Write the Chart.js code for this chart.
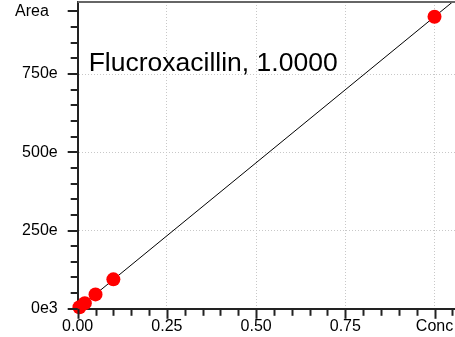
<!DOCTYPE html>
<html>
<head>
<meta charset="utf-8">
<script src="https://cdn.jsdelivr.net/npm/chart.js@4/dist/chart.umd.min.js"></script>
<style>
    html, body { margin: 0; padding: 0; background: #fff; }
    #wrap { width: 455px; height: 337px; position: relative; }
</style>
</head>
<body>
<div id="wrap"><canvas id="calChart"></canvas></div>
<script>
// calibration points
const conc = [0.005, 0.02, 0.05, 0.1, 1.0];
const area = [5, 18, 46, 94, 933];

// fitted line end points
const fitX = [0, 1.06];
const fitY = [0, 989];

// axes
const xMin = 0, xMax = 1.0574, xMinorStep = 0.05;
const yMin = 0, yMax = 980, yMinorStep = 50;
const xMajorTicks = [0, 0.25, 0.5, 0.75, 1.0];
const xTickLabels = ['0.00', '0.25', '0.50', '0.75', 'Conc'];
const yMajorTicks = [0, 250, 500, 750, 950];
const yTickLabels = ['0e3', '250e', '500e', '750e', 'Area'];
const xGridTicks = [0.25, 0.5, 0.75, 1.0];
const yGridTicks = [250, 500, 750];

const titleText = 'Flucroxacillin, 1.0000';

function near(a, b) { return Math.abs(a - b) < 1e-6; }
function majorIndex(list, v) { return list.findIndex(m => near(m, v)); }

function tickValues(min, max, step, bound) {
    const out = [];
    for (let i = 0; min + i * step <= max + 1e-9; i++) out.push(+(min + i * step).toFixed(6));
    if (!near(out[out.length - 1], bound)) out.push(bound);
    return out;
}

const xTicks = tickValues(xMin, 1.05, xMinorStep, xMax);
const yTicks = tickValues(yMin, 950, yMinorStep, yMax);

Chart.defaults.font.family = "'Liberation Sans', Arial, sans-serif";
Chart.defaults.color = '#000';

// tick marks (long at labelled ticks), top frame line, title inside the plot
const decorations = {
    id: 'decorations',
    afterDraw(chart) {
        const ctx = chart.ctx;
        const a = chart.chartArea;
        const xs = chart.scales.x, ys = chart.scales.y;
        ctx.save();
        ctx.strokeStyle = '#222';
        ctx.lineWidth = 2;
        xs.ticks.forEach(t => {
            if (near(t.value, xMax)) return;
            const px = Math.round(xs.getPixelForValue(t.value)) + 0.5;
            const len = majorIndex(xMajorTicks, t.value) >= 0 ? 10 : 7;
            ctx.beginPath();
            ctx.moveTo(px, a.bottom);
            ctx.lineTo(px, a.bottom + len);
            ctx.stroke();
        });
        ys.ticks.forEach(t => {
            if (near(t.value, yMax)) return;
            const py = Math.round(ys.getPixelForValue(t.value));
            const len = majorIndex(yMajorTicks, t.value) >= 0 ? 10 : 7;
            ctx.beginPath();
            ctx.moveTo(a.left, py);
            ctx.lineTo(a.left - len, py);
            ctx.stroke();
        });
        // top frame
        ctx.strokeStyle = '#666';
        ctx.lineWidth = 2;
        ctx.beginPath();
        ctx.moveTo(a.left, a.top);
        ctx.lineTo(a.right, a.top);
        ctx.stroke();
        // title
        ctx.fillStyle = '#000';
        ctx.font = "26.5px 'Liberation Sans', Arial, sans-serif";
        ctx.textBaseline = 'alphabetic';
        ctx.textAlign = 'left';
        ctx.fillText(titleText, a.left + 11, a.top + 69);
        ctx.restore();
    }
};

new Chart(document.getElementById('calChart').getContext('2d'), {
    type: 'scatter',
    data: {
        datasets: [
            {
                label: 'Standards',
                data: conc.map((c, i) => ({x: c, y: area[i]})),
                backgroundColor: '#ff0000',
                borderWidth: 0,
                pointRadius: 7,
                clip: false,
                order: 0
            },
            {
                type: 'line',
                label: 'Fit',
                data: fitX.map((c, i) => ({x: c, y: fitY[i]})),
                borderColor: '#000',
                borderWidth: 1,
                pointRadius: 0,
                fill: false,
                order: 1
            }
        ]
    },
    options: {
        responsive: true,
        maintainAspectRatio: false,
        animation: false,
        layout: {
            autoPadding: false,
            padding: {left: 15, top: 2, right: 0, bottom: 1}
        },
        plugins: {
            legend: {display: false},
            tooltip: {enabled: false}
        },
        scales: {
            x: {
                type: 'linear',
                min: xMin,
                max: xMax,
                afterBuildTicks: function(scale) {
                    scale.ticks = xTicks.map(v => ({value: v}));
                },
                ticks: {
                    autoSkip: false,
                    maxRotation: 0,
                    padding: 0,
                    font: {size: 16},
                    callback: function(v) {
                        if (near(v, xMax)) return [];
                        const k = majorIndex(xMajorTicks, v);
                        return k >= 0 ? xTickLabels[k] : '';
                    }
                },
                grid: {
                    color: ctx => (ctx.tick && xGridTicks.some(g => near(g, ctx.tick.value))) ? '#c8c8c8' : 'transparent',
                    lineWidth: 1,
                    drawTicks: true,
                    tickLength: 8,
                    tickColor: 'transparent'
                },
                border: {
                    color: '#222',
                    width: 2,
                    dash: [1, 2]
                }
            },
            y: {
                type: 'linear',
                min: yMin,
                max: yMax,
                afterBuildTicks: function(scale) {
                    scale.ticks = yTicks.map(v => ({value: v}));
                },
                ticks: {
                    autoSkip: false,
                    padding: 0,
                    font: {size: 16},
                    callback: function(v) {
                        if (near(v, yMax)) return [];
                        const k = majorIndex(yMajorTicks, v);
                        if (k < 0) return '';
                        // the top label sits a little left of the others
                        return near(v, 950) ? yTickLabels[k] + '  ' : yTickLabels[k];
                    }
                },
                grid: {
                    color: ctx => (ctx.tick && yGridTicks.some(g => near(g, ctx.tick.value))) ? '#c8c8c8' : 'transparent',
                    lineWidth: 1,
                    drawTicks: true,
                    tickLength: 20,
                    tickColor: 'transparent'
                },
                border: {
                    color: '#222',
                    width: 2,
                    dash: [1, 2]
                }
            }
        }
    },
    plugins: [decorations]
});
</script>
</body>
</html>
